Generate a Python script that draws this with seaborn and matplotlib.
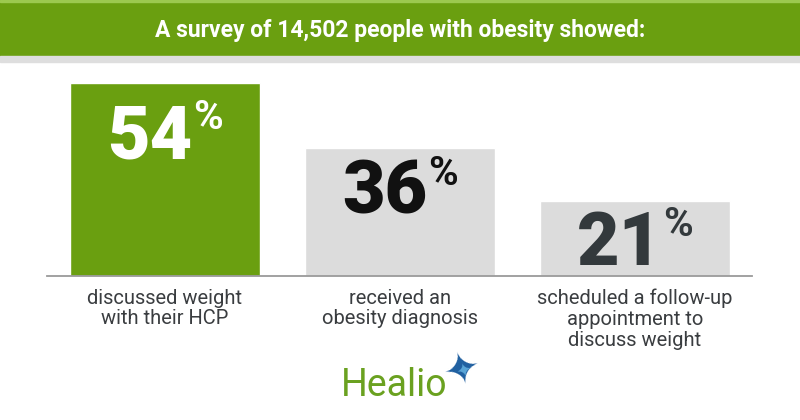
"""
Healio survey bar chart: share of people with obesity by HCP interaction.
"""

import matplotlib

matplotlib.use("Agg")
import matplotlib.pyplot as plt
import matplotlib.transforms as mtransforms
import pandas as pd
import seaborn as sns

title = "A survey of 14,502 people with obesity showed:"
categories = [
    "discussed weight\nwith their HCP",
    "received an\nobesity diagnosis",
    "scheduled a follow-up\nappointment to\ndiscuss weight",
]
values = [54, 36, 21]
bar_colors = ["#6a9f10", "#dcdcdc", "#dcdcdc"]
number_colors = ["#ffffff", "#111111", "#33393c"]

GREEN = "#6a9f10"
TEXT = "#3a3d40"

sns.set_theme(style="white")
plt.rcParams["font.family"] = ["Roboto", "DejaVu Sans"]

df = pd.DataFrame({"label": categories, "pct": values})

W, H = 800, 420
fig = plt.figure(figsize=(8, 4.2), dpi=100)
fig.patch.set_facecolor("white")

# header band
fig.patches.append(plt.Rectangle((0, 1 - 56 / H), 1, 56 / H, transform=fig.transFigure,
                                 color=GREEN, zorder=0))
fig.patches.append(plt.Rectangle((0, 1 - 62 / H), 1, 6 / H, transform=fig.transFigure,
                                 color="#dedede", zorder=0))
fig.patches.append(plt.Rectangle((0, 1 - 2 / H), 1, 2 / H, transform=fig.transFigure,
                                 color="#9cc94f", zorder=1))
fig.text(0.5, 1 - 31 / H, title, ha="center", va="center", color="white",
         fontsize=16.5, fontweight="bold")

ax = fig.add_axes([47 / W, 1 - 276 / H, 705 / W, 214 / H])
sns.barplot(data=df, x="label", y="pct", hue="label", palette=bar_colors,
            saturation=1, width=0.8085, legend=False, ax=ax)
ax.set_xlim(-0.502, 2.498)
ax.set_ylim(0, 60)
ax.set_ylabel("")
ax.set_xlabel("")
ax.set_yticks([])
for side in ["top", "left", "right"]:
    ax.spines[side].set_visible(False)
ax.spines["bottom"].set_color("#9a9a9a")
ax.spines["bottom"].set_linewidth(1.3)
ax.tick_params(axis="x", length=0, pad=9)
for lab in ax.get_xticklabels():
    lab.set_fontsize(14.5)
    lab.set_color(TEXT)
    lab.set_linespacing(1.12)

# big percentage numbers inside bars
fig.canvas.draw()
renderer = fig.canvas.get_renderer()
pix = mtransforms.IdentityTransform()
num_drop = [75, 66, 64]
bars = sorted(ax.patches, key=lambda p: p.get_x())
for bar, val, col, drop in zip(bars, values, number_colors, num_drop):
    cx = bar.get_x() + bar.get_width() / 2
    x_disp, top_disp = ax.transData.transform((cx, bar.get_height()))
    base = top_disp - drop
    digits = fig.text(0, base, f"{val}", transform=pix, ha="left", va="baseline",
                      color=col, fontsize=53, fontweight="black")
    pct = fig.text(0, base + 29, "%", transform=pix, ha="left", va="baseline",
                   color=col, fontsize=29, fontweight="bold")
    wd = digits.get_window_extent(renderer).width
    wp = pct.get_window_extent(renderer).width
    gap = 0.5
    left = x_disp - (wd + gap + wp) / 2
    digits.set_x(left)
    pct.set_x(left + wd + gap)

# Healio logo
fig.text(341 / W, 1 - 396 / H, "Healio", ha="left", va="baseline", color="#6aa120",
         fontsize=27)
fig.text(462 / W, 1 - 370 / H, "\u2726", ha="center", va="center", color="#1f5fa0",
         fontsize=32, rotation=15, family=["DejaVu Sans"])
fig.text(464 / W, 1 - 372 / H, "\u2726", ha="center", va="center", color="#5aa6d8",
         fontsize=13, rotation=15, family=["DejaVu Sans"])

fig.savefig("out.png", dpi=100)
